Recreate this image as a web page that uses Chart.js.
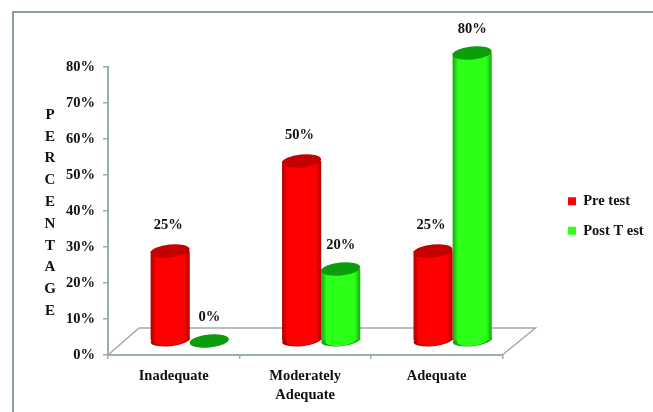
<!DOCTYPE html>
<html>
<head>
<meta charset="utf-8">
<script src="https://cdn.jsdelivr.net/npm/chart.js@4"></script>
<style>
  html, body { margin: 0; padding: 0; background: #fff; }
  canvas { display: block; }
</style>
</head>
<body>
<canvas id="chart" width="653" height="412"></canvas>
<script>
const categories = ['Inadequate', ['Moderately', 'Adequate'], 'Adequate'];
const preTest = [25, 50, 25];
const postTest = [0, 20, 80];
const yTitleLetters = ['P', 'E', 'R', 'C', 'E', 'N', 'T', 'A', 'G', 'E'];

const serifBold = '"Liberation Serif", "Times New Roman", serif';
const grayLine = '#9dacac';
const groupPct = 0.595;
// the floor goes back this far, bars stand halfway on it
const depthX = 31, depthY = 27;
const barShiftX = 16, barShiftY = -14;

const palette = [
  { edge: '#b00000', mid: '#ff0000', top: '#c40000' },
  { edge: '#14a810', mid: '#2cff18', top: '#0c9c0c' }
];

function cylinderFill(ctx) {
  const c = palette[ctx.datasetIndex];
  const xs = ctx.chart.scales.x;
  if (!xs || !ctx.chart.chartArea) return c.mid;
  const w = (xs.getPixelForValue(1) - xs.getPixelForValue(0)) * groupPct / 2;
  const left = xs.getPixelForValue(ctx.dataIndex) + (ctx.datasetIndex - 1) * w;
  const g = ctx.chart.ctx.createLinearGradient(left, 0, left + w, 0);
  g.addColorStop(0, c.edge);
  g.addColorStop(0.14, c.mid);
  g.addColorStop(0.86, c.mid);
  g.addColorStop(1, c.edge);
  return g;
}

function ellipse(c, x, y, rx, ry, fill) {
  c.beginPath();
  c.ellipse(x, y, rx, ry, -0.1, 0, Math.PI * 2);
  c.fillStyle = fill;
  c.fill();
}

// frame, floor and the vertical axis title
const scenePlugin = {
  id: 'scene',
  afterLayout(chart) {
    const lg = chart.legend;
    const dx = 553 - lg.left, dy = 216 - (lg.top + lg.bottom) / 2;
    lg.left += dx; lg.right += dx;
    lg.top += dy; lg.bottom += dy;
  },
  beforeDatasetsDraw(chart) {
    const c = chart.ctx, a = chart.chartArea;
    c.save();
    c.strokeStyle = '#8f9e9e';
    c.lineWidth = 2;
    c.strokeRect(13, 12, 800, 600);
    c.strokeStyle = grayLine;
    c.lineWidth = 1.5;
    c.beginPath();
    c.moveTo(a.left, a.bottom);
    c.lineTo(a.left + depthX, a.bottom - depthY);
    c.lineTo(a.right + depthX + 2, a.bottom - depthY);
    c.lineTo(a.right, a.bottom);
    c.stroke();
    c.fillStyle = '#111';
    c.font = 'bold 15px ' + serifBold;
    c.textAlign = 'center';
    c.textBaseline = 'middle';
    yTitleLetters.forEach((l, i) => c.fillText(l, 50, 115 + i * 21.8));
    c.restore();
  },
  beforeDatasetDraw(chart, args) {
    const c = chart.ctx;
    c.save();
    c.translate(barShiftX, barShiftY);
    const col = palette[args.index];
    args.meta.data.forEach(el => {
      ellipse(c, el.x, el.base, el.width / 2, 6, col.edge);
      if (el.base - el.y > 1) ellipse(c, el.x, el.base, el.width / 2 - 4, 5.5, col.mid);
    });
  },
  afterDatasetDraw(chart, args) {
    const c = chart.ctx;
    const col = palette[args.index];
    args.meta.data.forEach(el => {
      ellipse(c, el.x, el.y, el.width / 2, 6.5, col.top);
    });
    c.restore();
  },
  afterDatasetsDraw(chart) {
    const c = chart.ctx;
    c.save();
    c.fillStyle = '#111';
    c.font = 'bold 14.5px ' + serifBold;
    c.textAlign = 'center';
    c.textBaseline = 'middle';
    chart.data.datasets.forEach((ds, i) => {
      chart.getDatasetMeta(i).data.forEach((el, j) => {
        c.fillText(ds.data[j] + '%', el.x + barShiftX + (i ? 0 : -2), el.y + barShiftY - (i ? 24 : 26));
      });
    });
    c.restore();
  }
};

new Chart(document.getElementById('chart'), {
  type: 'bar',
  data: {
    labels: categories,
    datasets: [
      { label: 'Pre test', data: preTest, backgroundColor: cylinderFill, borderWidth: 0 },
      { label: 'Post T est', data: postTest, backgroundColor: cylinderFill, borderWidth: 0 }
    ]
  },
  options: {
    responsive: false,
    animation: false,
    devicePixelRatio: 1,
    layout: { padding: { top: 67, right: 50, left: 0, bottom: 0 } },
    datasets: { bar: { barPercentage: 1, categoryPercentage: groupPct } },
    scales: {
      x: {
        afterFit: s => { s.height = 57; },
        grid: { drawOnChartArea: false, tickLength: 4, color: grayLine, lineWidth: 1.5 },
        border: { color: grayLine, width: 2 },
        ticks: {
          color: '#111',
          padding: 8,
          maxRotation: 0,
          font: { family: serifBold, size: 14.5, weight: 'bold', lineHeight: 1.3 }
        }
      },
      y: {
        min: 0,
        max: 80,
        afterFit: s => { s.width = 108; },
        grid: { drawOnChartArea: false, tickLength: 5, color: grayLine, lineWidth: 1.5 },
        border: { color: grayLine, width: 2 },
        ticks: {
          stepSize: 10,
          color: '#111',
          padding: 8,
          callback: v => v + '%',
          font: { family: serifBold, size: 14.5, weight: 'bold' }
        }
      }
    },
    plugins: {
      title: { display: false },
      tooltip: { enabled: false },
      legend: {
        position: 'right',
        labels: {
          color: '#111',
          boxWidth: 8,
          boxHeight: 8,
          padding: 15,
          font: { family: serifBold, size: 14.5, weight: 'bold' },
          generateLabels: chart => chart.data.datasets.map((ds, i) => ({
            text: ds.label,
            fillStyle: i ? '#33ff1f' : '#ff0000',
            strokeStyle: 'transparent',
            lineWidth: 0,
            fontColor: '#111',
            datasetIndex: i
          }))
        }
      }
    }
  },
  plugins: [scenePlugin]
});
</script>
</body>
</html>
